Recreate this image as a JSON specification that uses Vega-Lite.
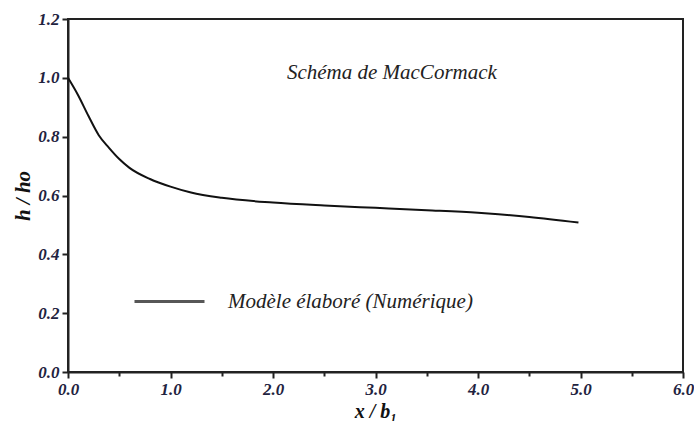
{
  "$schema": "https://vega.github.io/schema/vega-lite/v6.json",
  "width": 615,
  "height": 353,
  "autosize": {"type": "none"},
  "padding": {"left": 68, "top": 19, "right": 11, "bottom": 49},
  "background": "white",
  "config": {
    "view": {"stroke": "#222", "strokeWidth": 2},
    "axis": {
      "grid": false,
      "domainColor": "#222",
      "domainWidth": 2,
      "tickColor": "#222",
      "tickWidth": 2,
      "labelFont": "Liberation Serif",
      "labelFontStyle": "italic",
      "labelFontWeight": "bold",
      "labelFontSize": 17,
      "labelColor": "#1f2340",
      "titleFont": "Liberation Serif",
      "titleFontStyle": "italic",
      "titleFontWeight": "bold",
      "titleFontSize": 21,
      "titleColor": "#111"
    }
  },
  "layer": [
    {
      "data": {
        "values": [
          {"x": 0.0, "y": 1.0, "series": "Modèle élaboré (Numérique)"},
          {"x": 0.1, "y": 0.94, "series": "Modèle élaboré (Numérique)"},
          {"x": 0.2, "y": 0.87, "series": "Modèle élaboré (Numérique)"},
          {"x": 0.3, "y": 0.805, "series": "Modèle élaboré (Numérique)"},
          {"x": 0.4, "y": 0.762, "series": "Modèle élaboré (Numérique)"},
          {"x": 0.5, "y": 0.724, "series": "Modèle élaboré (Numérique)"},
          {"x": 0.6, "y": 0.694, "series": "Modèle élaboré (Numérique)"},
          {"x": 0.8, "y": 0.656, "series": "Modèle élaboré (Numérique)"},
          {"x": 1.0, "y": 0.63, "series": "Modèle élaboré (Numérique)"},
          {"x": 1.2, "y": 0.61, "series": "Modèle élaboré (Numérique)"},
          {"x": 1.5, "y": 0.592, "series": "Modèle élaboré (Numérique)"},
          {"x": 2.0, "y": 0.576, "series": "Modèle élaboré (Numérique)"},
          {"x": 2.5, "y": 0.566, "series": "Modèle élaboré (Numérique)"},
          {"x": 3.0, "y": 0.558, "series": "Modèle élaboré (Numérique)"},
          {"x": 3.5, "y": 0.55, "series": "Modèle élaboré (Numérique)"},
          {"x": 4.0, "y": 0.541, "series": "Modèle élaboré (Numérique)"},
          {"x": 4.2, "y": 0.536, "series": "Modèle élaboré (Numérique)"},
          {"x": 4.5, "y": 0.527, "series": "Modèle élaboré (Numérique)"},
          {"x": 4.98, "y": 0.508, "series": "Modèle élaboré (Numérique)"}
        ]
      },
      "mark": {"type": "line", "strokeWidth": 2, "interpolate": "monotone"},
      "encoding": {
        "x": {
          "field": "x", "type": "quantitative",
          "scale": {"domain": [0, 6], "nice": false},
          "axis": {
            "title": "x / b₁",
            "titleFontSize": 20,
            "titleBaseline": "alphabetic",
            "titleY": 45,
            "values": [0, 0.5, 1, 1.5, 2, 2.5, 3, 3.5, 4, 4.5, 5, 5.5, 6],
            "labelExpr": "round(datum.value*2) % 2 == 0 ? format(datum.value, '.1f') : ''",
            "tickSize": {"condition": {"test": "round(datum.value*2) % 2 == 1", "value": 4}, "value": 6},
            "labelPadding": 3,
            "labelFlush": false
          }
        },
        "y": {
          "field": "y", "type": "quantitative",
          "scale": {"domain": [0, 1.2], "nice": false},
          "axis": {
            "title": "h / ho",
            "titlePadding": 4,
            "values": [0, 0.1, 0.2, 0.3, 0.4, 0.5, 0.6, 0.7, 0.8, 0.9, 1.0, 1.1, 1.2],
            "labelExpr": "round(datum.value*10) % 2 == 0 ? format(datum.value, '.1f') : ''",
            "tickSize": {"condition": {"test": "round(datum.value*10) % 2 == 1", "value": 4}, "value": 6},
            "labelPadding": 3,
            "labelFlush": false
          }
        },
        "color": {
          "field": "series", "type": "nominal",
          "scale": {"range": ["#111"]},
          "legend": {
            "title": null,
            "orient": "none",
            "legendX": 65,
            "legendY": 246,
            "padding": 0,
            "symbolType": "stroke",
            "symbolSize": 4900,
            "symbolStrokeWidth": 3,
            "symbolOpacity": 0.7,
            "labelOffset": 22,
            "labelFont": "Liberation Serif",
            "labelFontStyle": "italic",
            "labelFontSize": 21,
            "labelColor": "#222",
            "labelLimit": 400
          }
        }
      }
    },
    {
      "data": {"values": [{"x": 3.16, "y": 1.016, "label": "Schéma de MacCormack"}]},
      "mark": {"type": "text", "font": "Liberation Serif", "fontStyle": "italic", "fontSize": 21, "color": "#222", "align": "center", "baseline": "middle"},
      "encoding": {
        "x": {"field": "x", "type": "quantitative"},
        "y": {"field": "y", "type": "quantitative"},
        "text": {"field": "label"}
      }
    }
  ]
}
